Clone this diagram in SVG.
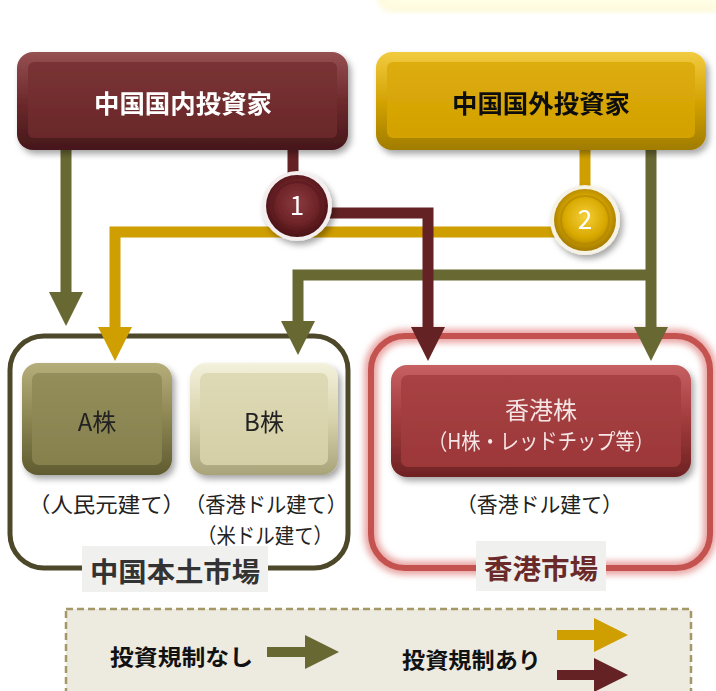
<svg xmlns="http://www.w3.org/2000/svg" width="716" height="691" viewBox="0 0 716 691">
<defs>
<style>
.t{font-family:"Noto Sans CJK JP","Noto Sans",sans-serif}
.ln{fill:none;stroke-width:11;stroke-linejoin:miter}
.olive{stroke:#686832}
.gold{stroke:#CF9E00}
.maroon{stroke:#642224}
</style>
<filter id="sh" x="-10%" y="-10%" width="125%" height="130%"><feDropShadow dx="3" dy="4" stdDeviation="3" flood-color="#000" flood-opacity="0.35"/></filter>
<filter id="glow" x="-10%" y="-10%" width="120%" height="120%"><feGaussianBlur stdDeviation="3"/></filter>
<linearGradient id="gM" x1="0" y1="0" x2="0" y2="1"><stop offset="0" stop-color="#955052"/><stop offset="0.5" stop-color="#6E2A2C"/><stop offset="1" stop-color="#45171A"/></linearGradient>
<linearGradient id="gMi" x1="0" y1="0" x2="0" y2="1"><stop offset="0" stop-color="#7A3335"/><stop offset="1" stop-color="#692829"/></linearGradient>
<linearGradient id="gG" x1="0" y1="0" x2="0" y2="1"><stop offset="0" stop-color="#F1CB40"/><stop offset="0.5" stop-color="#D4A304"/><stop offset="1" stop-color="#A07C00"/></linearGradient>
<linearGradient id="gGi" x1="0" y1="0" x2="0" y2="1"><stop offset="0" stop-color="#DDAC0A"/><stop offset="1" stop-color="#D3A103"/></linearGradient>
<linearGradient id="gA" x1="0" y1="0" x2="0" y2="1"><stop offset="0" stop-color="#B6AE7A"/><stop offset="0.5" stop-color="#8B8552"/><stop offset="1" stop-color="#605B30"/></linearGradient>
<linearGradient id="gAi" x1="0" y1="0" x2="0" y2="1"><stop offset="0" stop-color="#948E5B"/><stop offset="1" stop-color="#86804D"/></linearGradient>
<linearGradient id="gB" x1="0" y1="0" x2="0" y2="1"><stop offset="0" stop-color="#F4F1DC"/><stop offset="0.5" stop-color="#D8D3AC"/><stop offset="1" stop-color="#A9A37A"/></linearGradient>
<linearGradient id="gBi" x1="0" y1="0" x2="0" y2="1"><stop offset="0" stop-color="#DEDAB6"/><stop offset="1" stop-color="#D4CFA6"/></linearGradient>
<linearGradient id="gH" x1="0" y1="0" x2="0" y2="1"><stop offset="0" stop-color="#C66062"/><stop offset="0.5" stop-color="#A13B3C"/><stop offset="1" stop-color="#6E2223"/></linearGradient>
<linearGradient id="gHi" x1="0" y1="0" x2="0" y2="1"><stop offset="0" stop-color="#A84244"/><stop offset="1" stop-color="#9C3739"/></linearGradient>
<radialGradient id="c1" cx="0.5" cy="0.45" r="0.55"><stop offset="0" stop-color="#8A3A3E"/><stop offset="0.6" stop-color="#6E2428"/><stop offset="1" stop-color="#4A1216"/></radialGradient>
<radialGradient id="c2" cx="0.5" cy="0.45" r="0.55"><stop offset="0" stop-color="#F4CF3A"/><stop offset="0.6" stop-color="#D9A900"/><stop offset="1" stop-color="#A47A00"/></radialGradient>
<marker id="aO" markerUnits="userSpaceOnUse" markerWidth="34" markerHeight="34" viewBox="0 0 34 34" refX="1" refY="17" orient="auto"><path d="M0,0 L34,17 L0,34 Z" fill="#686832"/></marker>
<marker id="aG" markerUnits="userSpaceOnUse" markerWidth="34" markerHeight="34" viewBox="0 0 34 34" refX="1" refY="17" orient="auto"><path d="M0,0 L34,17 L0,34 Z" fill="#CF9E00"/></marker>
<marker id="aM" markerUnits="userSpaceOnUse" markerWidth="34" markerHeight="34" viewBox="0 0 34 34" refX="1" refY="17" orient="auto"><path d="M0,0 L34,17 L0,34 Z" fill="#642224"/></marker>
</defs>
<rect width="716" height="691" fill="#FFFFFF"/>
<!-- faint top-right panel -->
<rect x="380" y="-30" width="350" height="40" rx="12" fill="#FFFDE4" stroke="#FBF6C8" stroke-width="3" filter="url(#glow)"/>

<!-- containers -->
<g id="mainland-market">
<rect x="10" y="336" width="338" height="232" rx="34" fill="none" stroke="#4D4829" stroke-width="5"/>
<rect x="82" y="546" width="186" height="46" fill="#F0F0EE"/>
<text class="t" x="175" y="582" font-size="27" font-weight="bold" fill="#333" text-anchor="middle" textLength="170" lengthAdjust="spacingAndGlyphs">中国本土市場</text>
</g>
<g id="hk-market">
<rect x="371" y="336" width="339" height="232" rx="34" fill="none" stroke="#E8A6A4" stroke-width="14" filter="url(#glow)"/>
<rect x="371" y="336" width="339" height="232" rx="34" fill="none" stroke="#C4524F" stroke-width="6"/>
<rect x="476" y="541" width="130" height="50" fill="#F0F0EE"/>
<text class="t" x="541" y="579" font-size="27" font-weight="bold" fill="#6B2A2A" text-anchor="middle" textLength="114" lengthAdjust="spacingAndGlyphs">香港市場</text>
</g>

<!-- connectors -->
<g id="connectors">
<path class="ln olive" d="M66,150 V293" marker-end="url(#aO)"/>
<path class="ln olive" d="M651,150 V328" marker-end="url(#aO)"/>
<path class="ln olive" d="M651,275 H298 V322" marker-end="url(#aO)"/>
<path class="ln gold" d="M585,150 V190"/>
<path class="ln gold" d="M555,232 H115 V328" marker-end="url(#aG)"/>
<path class="ln maroon" d="M293,150 V174"/>
<path class="ln maroon" d="M328,213 H428 V328" marker-end="url(#aM)"/>
</g>

<!-- investor nodes -->
<g id="domestic-investors" filter="url(#sh)">
<rect x="17" y="52" width="331" height="98" rx="16" fill="url(#gM)"/>
<rect x="28" y="62" width="309" height="76" rx="6" fill="url(#gMi)"/>
<text class="t" x="183" y="113" font-size="25" font-weight="bold" fill="#FFFFFF" text-anchor="middle" textLength="178" lengthAdjust="spacingAndGlyphs">中国国内投資家</text>
</g>
<g id="foreign-investors" filter="url(#sh)">
<rect x="376" y="52" width="330" height="98" rx="16" fill="url(#gG)"/>
<rect x="387" y="62" width="308" height="76" rx="6" fill="url(#gGi)"/>
<text class="t" x="541" y="113" font-size="25" font-weight="bold" fill="#111111" text-anchor="middle" textLength="178" lengthAdjust="spacingAndGlyphs">中国国外投資家</text>
</g>

<!-- circles -->
<g id="c-1" filter="url(#sh)">
<circle cx="297" cy="206" r="35" fill="#F4EEEE"/>
<circle cx="297" cy="206" r="31" fill="url(#c1)"/>
<circle cx="297" cy="206" r="24" fill="none" stroke="#5A1A1E" stroke-width="2" opacity="0.6"/>
<text class="t" x="297" y="215" font-size="26" fill="#FFFFFF" text-anchor="middle">1</text>
</g>
<g id="c-2" filter="url(#sh)">
<circle cx="585" cy="220" r="35" fill="#F6F2E4"/>
<circle cx="585" cy="220" r="31" fill="url(#c2)"/>
<circle cx="585" cy="220" r="24" fill="none" stroke="#B08400" stroke-width="2" opacity="0.6"/>
<text class="t" x="585" y="229" font-size="26" fill="#FFFFFF" text-anchor="middle">2</text>
</g>

<!-- share nodes -->
<g id="a-shares" filter="url(#sh)">
<rect x="22" y="363" width="150" height="112" rx="16" fill="url(#gA)"/>
<rect x="32" y="373" width="130" height="92" rx="7" fill="url(#gAi)"/>
<text class="t" x="97" y="431" font-size="24" fill="#222" text-anchor="middle">A株</text>
</g>
<g id="b-shares" filter="url(#sh)">
<rect x="190" y="363" width="148" height="112" rx="16" fill="url(#gB)"/>
<rect x="200" y="373" width="128" height="92" rx="7" fill="url(#gBi)"/>
<text class="t" x="264" y="431" font-size="24" fill="#222" text-anchor="middle">B株</text>
</g>
<g id="hk-shares" filter="url(#sh)">
<rect x="391" y="365" width="300" height="112" rx="16" fill="url(#gH)"/>
<rect x="401" y="375" width="280" height="92" rx="7" fill="url(#gHi)"/>
<text class="t" x="541" y="419" font-size="24" fill="#F6E6E6" text-anchor="middle">香港株</text>
<text class="t" x="541" y="449" font-size="22" fill="#F6E6E6" text-anchor="middle" textLength="226" lengthAdjust="spacingAndGlyphs">（H株・レッドチップ等）</text>
</g>

<!-- currency notes -->
<g id="notes">
<text class="t" x="28" y="512" font-size="21" fill="#222" textLength="157" lengthAdjust="spacingAndGlyphs">（人民元建て）</text>
<text class="t" x="185" y="512" font-size="21" fill="#222" textLength="162" lengthAdjust="spacingAndGlyphs">（香港ドル建て）</text>
<text class="t" x="197" y="543" font-size="21" fill="#222" textLength="136" lengthAdjust="spacingAndGlyphs">（米ドル建て）</text>
<text class="t" x="456" y="512" font-size="21" fill="#222" textLength="167" lengthAdjust="spacingAndGlyphs">（香港ドル建て）</text>
</g>

<!-- legend -->
<g id="legend">
<rect x="66" y="609" width="625" height="100" fill="#EDEAE0" stroke="#A39866" stroke-width="2.5" stroke-dasharray="7,4"/>
<text class="t" x="110" y="665" font-size="22" font-weight="bold" fill="#111" textLength="143" lengthAdjust="spacingAndGlyphs">投資規制なし</text>
<path d="M267,652 H306" stroke="#686832" stroke-width="10" fill="none" marker-end="url(#aO)"/>
<text class="t" x="402" y="668" font-size="22" font-weight="bold" fill="#111" textLength="139" lengthAdjust="spacingAndGlyphs">投資規制あり</text>
<path d="M557,635 H595" stroke="#CF9E00" stroke-width="10" fill="none" marker-end="url(#aG)"/>
<path d="M557,675 H595" stroke="#642224" stroke-width="10" fill="none" marker-end="url(#aM)"/>
</g>
</svg>
